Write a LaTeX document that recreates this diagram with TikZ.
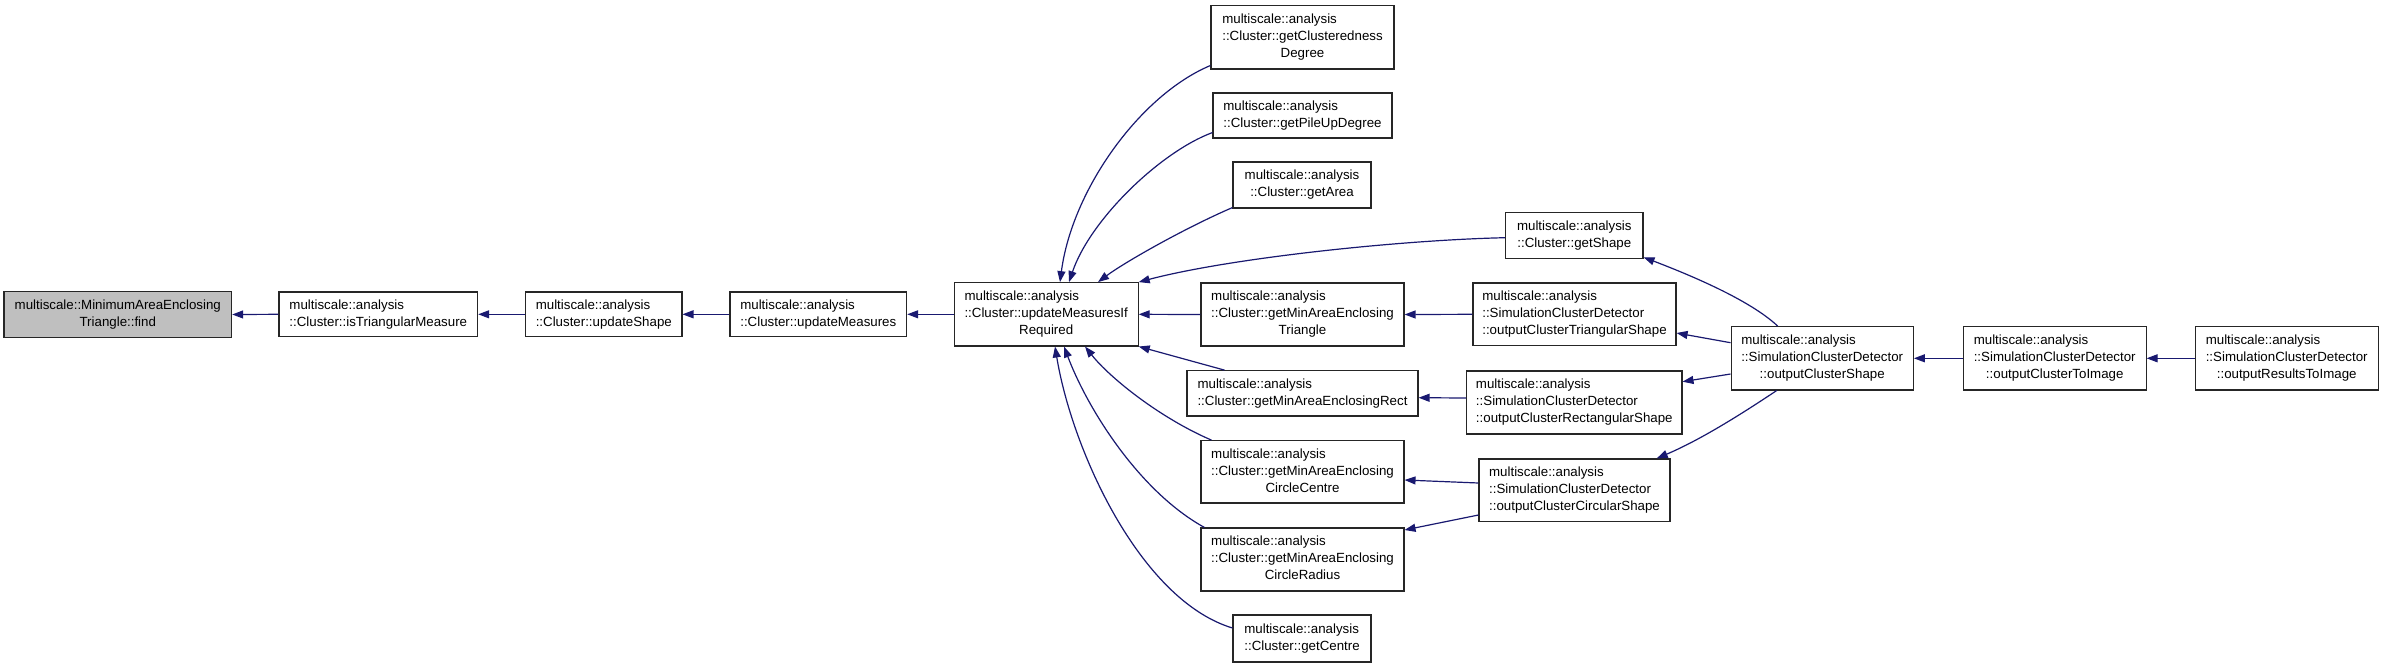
\documentclass[tikz,border=0pt]{standalone}
\usepackage{fontspec}
\setmainfont{Liberation Sans}
\usetikzlibrary{arrows.meta}
\definecolor{edgeblue}{HTML}{191970}
\definecolor{graybox}{HTML}{BFBFBF}
\newcommand\twol[2]{\begin{tabular}{@{}l@{}}#1\\\multicolumn{1}{@{}c@{}}{#2}\end{tabular}}
\newcommand\threel[3]{\begin{tabular}{@{}l@{}}#1\\#2\\\multicolumn{1}{@{}c@{}}{#3}\end{tabular}}
\begin{document}
\begin{tikzpicture}[x=1pt,y=-1pt,
  box/.style={draw=black!85, line width=1.1pt, fill=white, inner sep=0pt,
    font=\fontsize{13.3}{17}\selectfont},
  edge/.style={draw=edgeblue, line width=1.2pt, -{Triangle[length=11pt,width=8pt]}}]
\useasboundingbox (0,0) rectangle (2384,667);
\fill[white] (0,0) rectangle (2384,667);
% main row
\node[box, fill=graybox, minimum width=227.7pt, minimum height=45.6pt] (n1) at (117.8,314.5) {\twol{multiscale::MinimumAreaEnclosing}{Triangle::find}};
\node[box, minimum width=198.7pt, minimum height=44.7pt] (n2) at (378.3,314.3) {\twol{multiscale::analysis}{::Cluster::isTriangularMeasure}};
\node[box, minimum width=156.3pt, minimum height=44.7pt] (n3) at (603.8,314.3) {\twol{multiscale::analysis}{::Cluster::updateShape}};
\node[box, minimum width=176.7pt, minimum height=44.7pt] (n4) at (818.3,314.3) {\twol{multiscale::analysis}{::Cluster::updateMeasures}};
\node[box, minimum width=183.9pt, minimum height=63.3pt] (n5) at (1046.2,314.3) {\threel{multiscale::analysis}{::Cluster::updateMeasuresIf}{Required}};
% column of Cluster getters
\node[box, minimum width=183pt, minimum height=63.3pt] (n6) at (1302.5,37.3) {\threel{multiscale::analysis}{::Cluster::getClusteredness}{Degree}};
\node[box, minimum width=179pt, minimum height=45pt] (n7) at (1302.5,115.5) {\twol{multiscale::analysis}{::Cluster::getPileUpDegree}};
\node[box, minimum width=138pt, minimum height=46pt] (n8) at (1302,185) {\twol{multiscale::analysis}{::Cluster::getArea}};
\node[box, minimum width=137.3pt, minimum height=46pt] (n9) at (1574.3,235.7) {\twol{multiscale::analysis}{::Cluster::getShape}};
\node[box, minimum width=203pt, minimum height=63pt] (n10) at (1302.5,314.5) {\threel{multiscale::analysis}{::Cluster::getMinAreaEnclosing}{Triangle}};
\node[box, minimum width=231pt, minimum height=45.3pt] (n11) at (1302.5,393.3) {\twol{multiscale::analysis}{::Cluster::getMinAreaEnclosingRect}};
\node[box, minimum width=203pt, minimum height=62.3pt] (n12) at (1302.5,471.8) {\threel{multiscale::analysis}{::Cluster::getMinAreaEnclosing}{CircleCentre}};
\node[box, minimum width=203pt, minimum height=63pt] (n13) at (1302.5,559.5) {\threel{multiscale::analysis}{::Cluster::getMinAreaEnclosing}{CircleRadius}};
\node[box, minimum width=138pt, minimum height=47pt] (n14) at (1302,638.5) {\twol{multiscale::analysis}{::Cluster::getCentre}};
% SimulationClusterDetector column
\node[box, minimum width=203pt, minimum height=62.7pt] (n15) at (1574.5,314.3) {\threel{multiscale::analysis}{::SimulationClusterDetector}{::outputClusterTriangularShape}};
\node[box, minimum width=215.3pt, minimum height=63pt] (n16) at (1574.3,402.5) {\threel{multiscale::analysis}{::SimulationClusterDetector}{::outputClusterRectangularShape}};
\node[box, minimum width=191pt, minimum height=62.7pt] (n17) at (1574.5,490.3) {\threel{multiscale::analysis}{::SimulationClusterDetector}{::outputClusterCircularShape}};
% right chain
\node[box, minimum width=182.3pt, minimum height=63.3pt] (n18) at (1822.2,358.3) {\threel{multiscale::analysis}{::SimulationClusterDetector}{::outputClusterShape}};
\node[box, minimum width=182.7pt, minimum height=63.3pt] (n19) at (2054.7,358.3) {\threel{multiscale::analysis}{::SimulationClusterDetector}{::outputClusterToImage}};
\node[box, minimum width=183.3pt, minimum height=63.3pt] (n20) at (2286.7,358.3) {\threel{multiscale::analysis}{::SimulationClusterDetector}{::outputResultsToImage}};
% edges
\draw[edge] (n2.west) -- (n1.east);
\draw[edge] (n3.west) -- (n2.east);
\draw[edge] (n4.west) -- (n3.east);
\draw[edge] (n5.west) -- (n4.east);
\draw[edge] ([yshift=4pt]n6.south west) .. controls (1140,95) and (1072,190) .. ([xshift=13.8pt]n5.north);
\draw[edge] ([yshift=6pt]n7.south west) .. controls (1160,152) and (1090,220) .. ([xshift=22.8pt]n5.north);
\draw[edge] ([yshift=1pt]n8.south west) .. controls (1185,228) and (1125,262) .. ([xshift=51.8pt]n5.north);
\draw[edge] ([yshift=-2pt]n9.west) .. controls (1400,240) and (1230,258) .. (n5.north east);
\draw[edge] (n10.west) -- (n5.east);
\draw[edge] ([xshift=38pt]n11.north west) -- (n5.south east);
\draw[edge] ([xshift=11pt]n12.north west) .. controls (1160,418) and (1110,378) .. ([xshift=38.8pt]n5.south);
\draw[edge] ([xshift=4pt]n13.north west) .. controls (1140,492) and (1088,410) .. ([xshift=17.8pt]n5.south);
\draw[edge] ([yshift=10.5pt]n14.west) .. controls (1140,600) and (1072,450) .. ([xshift=8.8pt]n5.south);
\draw[edge] (n15.west) -- (n10.east);
\draw[edge] ([yshift=4.5pt]n16.west) -- ([yshift=-4.4pt]n11.east);
\draw[edge] ([yshift=7.3pt]n17.west) -- ([yshift=-8.2pt]n12.east);
\draw[edge] ([yshift=-24.7pt]n17.west) -- ([yshift=29.5pt]n13.east);
\draw[edge] ([xshift=-44.5pt]n18.north) .. controls (1750,300) and (1690,275) .. ([yshift=2pt]n9.south east);
\draw[edge] ([yshift=15.6pt]n18.west) -- ([yshift=-18.7pt]n15.east);
\draw[edge] ([yshift=-15.7pt]n18.west) -- ([yshift=20.8pt]n16.east);
\draw[edge] ([xshift=-45.5pt]n18.south) .. controls (1740,415) and (1700,440) .. ([xshift=82.2pt]n17.north);
\draw[edge] (n19.west) -- (n18.east);
\draw[edge] (n20.west) -- (n19.east);
\end{tikzpicture}
\end{document}
